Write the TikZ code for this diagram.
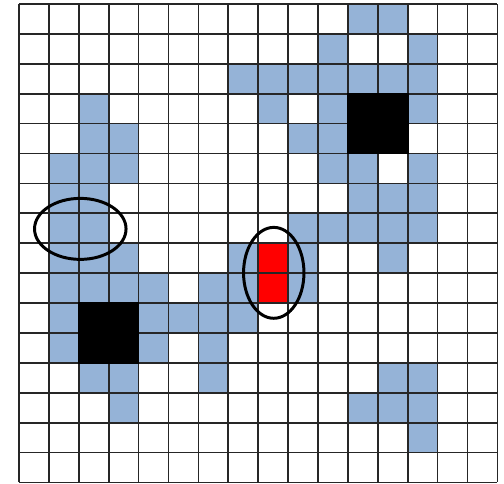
\documentclass[tikz,border=0pt]{standalone}
\usepackage{xcolor}
\usepackage{tikz}
\definecolor{cellblue}{RGB}{149,179,215}

\begin{document}
\begin{tikzpicture}[x=0.6cm,y=-0.6cm]
\useasboundingbox (-0.635,-0.134) rectangle (16.22,16.05);
% blue cells, row/columns
\foreach \r/\cols in {0/{11,12}, 1/{10,13}, 2/{7,8,9,10,11,12,13}, 3/{2,8,10,13},
  4/{2,3,9,10}, 5/{1,2,3,10,11,13}, 6/{1,2,11,12,13}, 7/{1,2,9,10,11,12,13},
  8/{1,2,3,7,9,12}, 9/{1,2,3,4,6,7,9}, 10/{1,4,5,6,7}, 11/{1,4,6},
  12/{2,3,6,12,13}, 13/{3,11,12,13}, 14/{13}} {
  \foreach \c in \cols {
    \fill[cellblue] (\c,\r) rectangle ++(1,1);
  }
}
% target
\fill[red] (8,8) rectangle ++(1,2);
\foreach \i in {0,...,16} {
  \draw[line width=1pt,black!85] (\i,0) -- (\i,16);
  \draw[line width=1pt,black!85] (0,\i) -- (16,\i);
}
% obstacles
\filldraw[line width=1pt,black] (11,3) rectangle ++(2,2);
\filldraw[line width=1pt,black] (2,10) rectangle ++(2,2);
\draw[line width=1.7pt] (2.05,7.52) ellipse [x radius=1.53, y radius=1.02];
\draw[line width=1.7pt] (8.52,8.99) ellipse [x radius=1.01, y radius=1.52];
\end{tikzpicture}
\end{document}
